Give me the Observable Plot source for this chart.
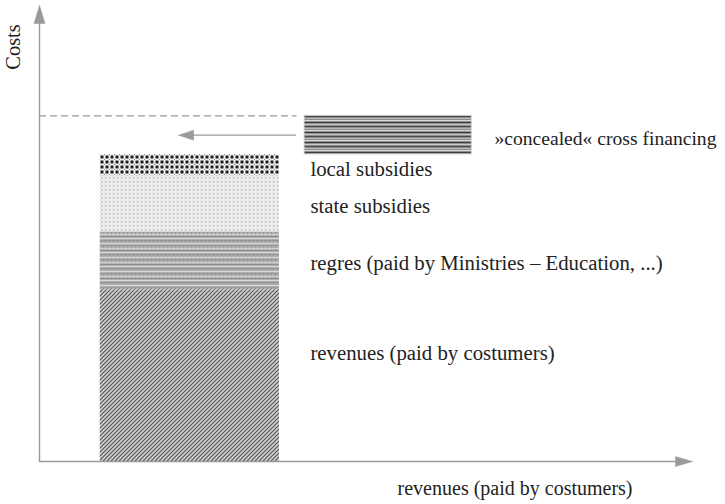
<!DOCTYPE html>
<html><head><meta charset="utf-8">
<script src="https://cdn.jsdelivr.net/npm/d3@7"></script>
<script src="https://cdn.jsdelivr.net/npm/@observablehq/plot@0.6"></script>
<style>html,body{margin:0;padding:0;background:#fff}</style>
</head><body><div id="chart"></div>
<script>
// ---- data (cost units) ----
const segments = ["revenues (paid by costumers)", "regres (paid by Ministries – Education, ...)", "state subsidies", "local subsidies"];
const segmentValues = [56.5, 19, 18.5, 7];
const segmentPatterns = ["p-rev", "p-reg", "p-state", "p-local"];
const crossLabel = "»concealed« cross financing";
const crossValue = 12.7;
const yAxisLabel = "Costs";
const xAxisLabel = "revenues (paid by costumers)";

// ---- layout ----
const W = 725, H = 504, mL = 39, mR = 33, mT = 5, mB = 43;
const xMax = 215, yMax = 150;
const kx = (W - mL - mR) / xMax, ky = (H - mT - mB) / yMax;
const px = p => p / kx, py = p => p / ky;
const labelShift = [-22, 2, 2, 4.5]; // px, downward positive
const FONT = "'Liberation Serif', 'Times New Roman', serif";

let acc = 0;
const table = segments.map((name, i) => {
  const y1 = acc; acc += segmentValues[i];
  return {name, y1, y2: acc, pattern: segmentPatterns[i], shift: labelShift[i]};
});
const total = acc;
const cross = {name: crossLabel, y1: total, y2: total + crossValue};
const crossMid = (cross.y1 + cross.y2) / 2;

const barX = [20, 79], crossX = [87.3, 142.3];
const arrowX = [84.3, 45.8];
const gray = "#9a9a9a";
const txt = {textAnchor: "start", fontSize: 20.5, fill: "#222", fontFamily: FONT};

const marks = [];
// stacked bar segments
table.forEach(d => marks.push(Plot.rect([d], {x1: barX[0], x2: barX[1], y1: "y1", y2: "y2", fill: `url(#${d.pattern})`})));
// cross financing box
marks.push(Plot.rect([cross], {x1: crossX[0], x2: crossX[1], y1: "y1", y2: "y2", fill: "url(#p-cross)", stroke: "#c8c8c8", strokeWidth: 0.8}));
// dashed level line
marks.push(Plot.ruleY([cross.y2], {x1: 0, x2: arrowX[0] + 0.5, stroke: gray, strokeWidth: 1.4, strokeDasharray: "7,4"}));
// left arrow
marks.push(Plot.line([[arrowX[0], crossMid], [arrowX[1] + px(14), crossMid]], {stroke: gray, strokeWidth: 1.4}));
marks.push(Plot.line([[arrowX[1], crossMid], [arrowX[1] + px(15), crossMid + py(5)], [arrowX[1] + px(15), crossMid - py(5)], [arrowX[1], crossMid]], {fill: gray, stroke: gray, strokeWidth: 0.5}));
// axes
marks.push(Plot.line([[0, 0], [0, yMax - py(16)]], {stroke: gray, strokeWidth: 1.4}));
marks.push(Plot.line([[0, 0], [xMax - px(15), 0]], {stroke: gray, strokeWidth: 1.4}));
marks.push(Plot.line([[0, yMax], [-px(5.5), yMax - py(18)], [px(5.5), yMax - py(18)], [0, yMax]], {fill: gray, stroke: gray, strokeWidth: 0.5}));
marks.push(Plot.line([[xMax, 0], [xMax - px(17), py(5)], [xMax - px(17), -py(5)], [xMax, 0]], {fill: gray, stroke: gray, strokeWidth: 0.5}));
// labels
marks.push(Plot.text(table, {...txt, fontSize: 20.8, x: 89.2, y: d => (d.y1 + d.y2) / 2 - d.shift / ky, text: "name"}));
marks.push(Plot.text([cross], {...txt, fontSize: 19.6, x: 149.8, y: crossMid - 4 / ky, text: "name"}));
marks.push(Plot.text([xAxisLabel], {...txt, fontSize: 20, x: 117.9, y: -(488.5 - (H - mB)) / ky, text: d => d}));
marks.push(Plot.text([yAxisLabel], {...txt, textAnchor: "middle", x: -(mL - 13.4) / kx, y: ((H - mB) - 46.5) / ky, text: d => d, rotate: -90}));

const chart = Plot.plot({
  width: W, height: H,
  marginLeft: mL, marginRight: mR, marginTop: mT, marginBottom: mB,
  x: {domain: [0, xMax], axis: null},
  y: {domain: [0, yMax], axis: null},
  style: {fontFamily: FONT, background: "#fff"},
  marks
});

const defsSrc = `
<pattern id="p-rev" width="4" height="4" patternUnits="userSpaceOnUse">
  <rect width="4" height="4" fill="#d2d2d2"/>
  <path d="M-1,1 l2,-2 M0,4 l4,-4 M3,5 l2,-2" stroke="#555" stroke-width="1.2"/>
</pattern>
<pattern id="p-reg" width="4" height="14" patternUnits="userSpaceOnUse">
  <rect width="4" height="14" fill="#b0b0b0"/>
  <rect y="0" width="4" height="1" fill="#d6d6d6"/>
  <rect y="2" width="4" height="1" fill="#959595"/>
  <rect y="5" width="4" height="1" fill="#d8d8d8"/>
  <rect y="7" width="4" height="1" fill="#999"/>
  <rect y="10" width="4" height="1" fill="#cecece"/>
  <rect y="12" width="4" height="1" fill="#8e8e8e"/>
  <rect x="1" y="3" width="1" height="1" fill="#888"/>
  <rect x="3" y="8" width="1" height="1" fill="#888"/>
  <rect x="1" y="11" width="1" height="1" fill="#c8c8c8"/>
</pattern>
<pattern id="p-state" width="4" height="4" patternUnits="userSpaceOnUse">
  <rect width="4" height="4" fill="#eeeeee"/>
  <circle cx="2" cy="2" r="0.9" fill="#c2c2c2"/>
  <rect x="0" y="0" width="1" height="1" fill="#dadada"/>
</pattern>
<pattern id="p-local" width="5" height="5" patternUnits="userSpaceOnUse">
  <rect width="5" height="5" fill="#f2f2f2"/>
  <rect x="0.5" y="0.5" width="3" height="3" fill="#1e1e1e"/>
  <rect x="4" y="4" width="1" height="1" fill="#888"/>
</pattern>
<pattern id="p-cross" width="4" height="10" patternUnits="userSpaceOnUse">
  <rect width="4" height="10" fill="#8e8e8e"/>
  <rect y="0" width="4" height="1" fill="#dadada"/>
  <rect y="2" width="4" height="1" fill="#3c3c3c"/>
  <rect y="4" width="4" height="1" fill="#cacaca"/>
  <rect y="6" width="4" height="1" fill="#4a4a4a"/>
  <rect y="8" width="4" height="1" fill="#b8b8b8"/>
</pattern>`;
const defs = document.createElementNS("http://www.w3.org/2000/svg", "defs");
defs.innerHTML = defsSrc;
chart.insertBefore(defs, chart.firstChild);
document.getElementById("chart").appendChild(chart);
</script>
</body></html>
